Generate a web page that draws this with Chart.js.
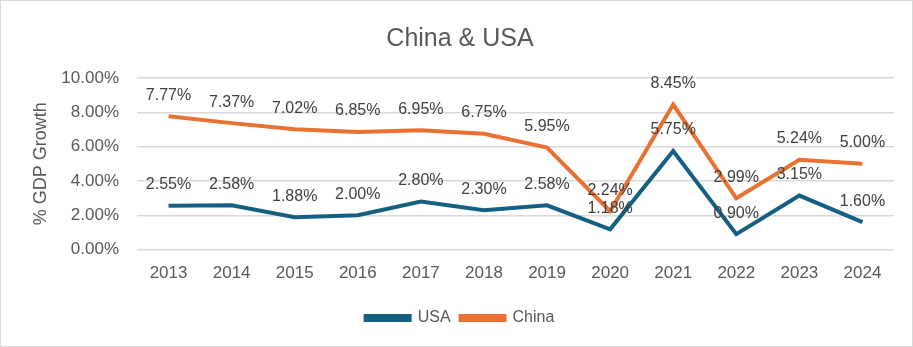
<!DOCTYPE html>
<html>
<head>
<meta charset="utf-8">
<script src="https://cdn.jsdelivr.net/npm/chart.js@4/dist/chart.umd.min.js"></script>
<style>
  html, body { margin: 0; padding: 0; background: #fff; }
  #wrap { position: relative; width: 911px; height: 345px; border: 1px solid #d9d9d9; }
</style>
</head>
<body>
<div id="wrap"><canvas id="gdpChart" width="911" height="345"></canvas></div>
<script>
let years = ["2013", "2014", "2015", "2016", "2017", "2018", "2019", "2020", "2021", "2022", "2023", "2024"];
let usaGrowth = [2.55, 2.58, 1.88, 2.00, 2.80, 2.30, 2.58, 1.18, 5.75, 0.90, 3.15, 1.60];
let chinaGrowth = [7.77, 7.37, 7.02, 6.85, 6.95, 6.75, 5.95, 2.24, 8.45, 2.99, 5.24, 5.00];

let fontFam = "'Liberation Sans', Arial, sans-serif";

// labels above each point, like excel does it
const pointLabels = {
  id: "pointLabels",
  afterDatasetsDraw(chart) {
    let c = chart.ctx;
    c.save();
    c.font = "16px " + fontFam;
    c.fillStyle = "#404040";
    c.textAlign = "center";
    c.textBaseline = "middle";
    chart.data.datasets.forEach((ds, i) => {
      chart.getDatasetMeta(i).data.forEach((pt, j) => {
        c.fillText(ds.data[j].toFixed(2) + "%", pt.x, pt.y - 21);
      });
    });
    c.restore();
  }
};

let ctx = document.getElementById("gdpChart").getContext("2d");

let myChart = new Chart(ctx, {
  type: "line",
  data: {
    labels: years,
    datasets: [
      {
        label: "USA",
        data: usaGrowth,
        borderColor: "#156082",
        backgroundColor: "#156082",
        borderWidth: 4,
        pointRadius: 0,
        tension: 0
      },
      {
        label: "China",
        data: chinaGrowth,
        borderColor: "#E97132",
        backgroundColor: "#E97132",
        borderWidth: 4,
        pointRadius: 0,
        tension: 0
      }
    ]
  },
  options: {
    responsive: false,
    animation: false,
    layout: { padding: { left: 25, right: 18, top: 8, bottom: 10 } },
    plugins: {
      title: {
        display: true,
        text: "China & USA",
        color: "#595959",
        font: { size: 25, family: fontFam, weight: "normal" },
        padding: { top: 15, bottom: 24 }
      },
      legend: {
        position: "bottom",
        labels: {
          color: "#595959",
          font: { size: 16, family: fontFam },
          boxWidth: 44,
          boxHeight: 4,
          padding: 10
        }
      },
      tooltip: { enabled: false }
    },
    scales: {
      x: {
        offset: true,
        grid: { display: false },
        border: { display: false },
        ticks: {
          color: "#595959",
          font: { size: 17, family: fontFam },
          padding: 6
        },
        afterFit: (s) => { s.height += 10; }
      },
      y: {
        min: 0,
        max: 10,
        grid: { color: "#d9d9d9", lineWidth: 1.5, drawTicks: false },
        border: { display: false },
        ticks: {
          stepSize: 2,
          color: "#595959",
          font: { size: 17, family: fontFam },
          padding: 18,
          callback: (v) => v.toFixed(2) + "%"
        },
        title: {
          display: true,
          text: "% GDP Growth",
          color: "#595959",
          font: { size: 18, family: fontFam },
          padding: { top: 4, bottom: 0 }
        },
        afterFit: (s) => { s.width = 111; }
      }
    }
  },
  plugins: [pointLabels]
});
</script>
</body>
</html>
